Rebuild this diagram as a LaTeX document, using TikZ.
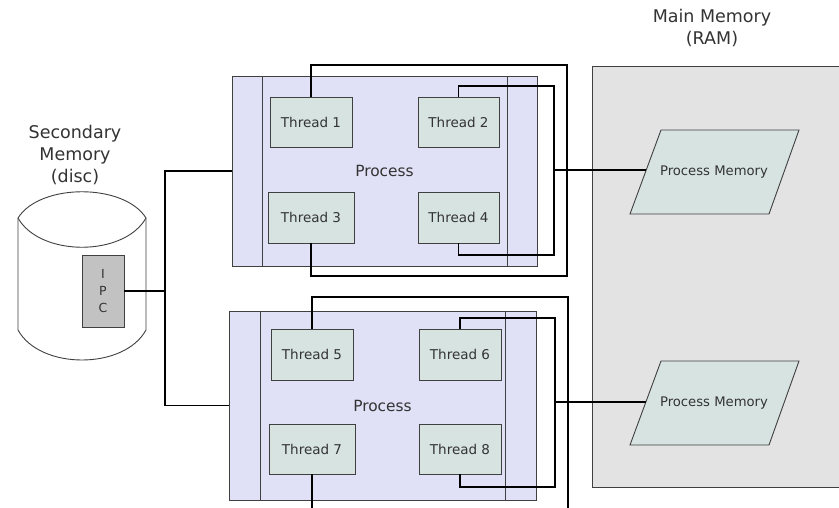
\documentclass[tikz,border=0pt]{standalone}
\usepackage{fontspec}
\setmainfont{DejaVu Sans}
\definecolor{procfill}{HTML}{E0E0F6}
\definecolor{thfill}{HTML}{D6E3E1}
\definecolor{ramfill}{HTML}{E3E3E3}
\definecolor{ipcfill}{HTML}{C2C2C2}
\definecolor{txt}{HTML}{333333}
\definecolor{edge}{HTML}{404040}
\begin{document}
\begin{tikzpicture}[x=1pt,y=-1pt,
  box/.style={draw=edge,line width=0.9pt,inner sep=0pt,text=txt},
  procbox/.style={box,fill=procfill,font=\fontsize{15.4}{17}\selectfont},
  thbox/.style={box,fill=thfill,font=\fontsize{13.5}{15}\selectfont},
  loopline/.style={draw=black,line width=1.6pt},
  conn/.style={draw=black,line width=1.4pt},
  title/.style={align=center,text=txt,font=\fontsize{17.5}{22}\selectfont,inner sep=0pt},
  pmtext/.style={text=txt,font=\fontsize{13.2}{15}\selectfont,inner sep=0pt}]
\useasboundingbox (0,0) rectangle (839,507);
\clip (0,0) rectangle (839,507);
\fill[white] (0,0) rectangle (839,507);

% Main memory
\node[box,fill=ramfill,minimum width=253pt,minimum height=421pt,anchor=north west] (ram) at (592,66) {};
\node[title] (ramtitle) at (712,28) {Main Memory\\(RAM)};
\draw[box,fill=thfill] (661,130) -- (799,130) -- (769,214) -- (630,214) -- cycle;
\node[pmtext] (pm1) at (714,172) {Process Memory};
\coordinate (pm1w) at (646.2,170);
\draw[box,fill=thfill] (661,361) -- (799,361) -- (769,445) -- (630,445) -- cycle;
\node[pmtext] (pm2) at (714,403) {Process Memory};
\coordinate (pm2w) at (645.9,402);

% Secondary memory
\node[title] (sectitle) at (75,155) {Secondary\\Memory\\(disc)};
\draw[draw=edge,line width=0.9pt,fill=white] (18,218) .. controls (40,183) and (124,183) .. (146,218) -- (146,330) .. controls (124,370) and (40,370) .. (18,330) -- cycle;
\draw[draw=edge,line width=0.9pt] (18,218) .. controls (40,257) and (124,257) .. (146,218);
\node[box,fill=ipcfill,minimum width=42pt,minimum height=72pt,align=center,font=\fontsize{12.5}{17}\selectfont] (ipc) at (103,291) {I\\P\\C};

% Processes
\node[procbox,minimum width=305pt,minimum height=190pt] (p1) at (384.5,171) {Process};
\draw[draw=edge,line width=0.9pt] (262,76) -- (262,266) (507,76) -- (507,266);
\node[procbox,minimum width=307pt,minimum height=189pt] (p2) at (382.5,405.5) {Process};
\draw[draw=edge,line width=0.9pt] (260,311) -- (260,500) (505,311) -- (505,500);

% Threads
\node[thbox,minimum width=82pt,minimum height=50pt] (t1) at (311,122) {Thread 1};
\node[thbox,minimum width=81pt,minimum height=50pt] (t2) at (458.5,122) {Thread 2};
\node[thbox,minimum width=86pt,minimum height=51pt] (t3) at (311,217.5) {Thread 3};
\node[thbox,minimum width=81pt,minimum height=51pt] (t4) at (458.5,217.5) {Thread 4};
\node[thbox,minimum width=82pt,minimum height=51pt] (t5) at (312,354.5) {Thread 5};
\node[thbox,minimum width=82pt,minimum height=51pt] (t6) at (460,354.5) {Thread 6};
\node[thbox,minimum width=86pt,minimum height=50pt] (t7) at (312,449) {Thread 7};
\node[thbox,minimum width=82pt,minimum height=50pt] (t8) at (460,449) {Thread 8};

% Loops process 1
\coordinate (a1) at (567,65);
\coordinate (a2) at (567,276);
\draw[loopline] (t1.north) |- (a1) -- (a2) -| (t3.south);
\coordinate (b1) at (554,86);
\coordinate (b2) at (554,255);
\draw[loopline] (t2.north) |- (b1) -- (b2) -| (t4.south);
% Loops process 2
\coordinate (c1) at (568,297);
\coordinate (c2) at (568,515);
\draw[loopline] (t5.north) |- (c1) -- (c2) -| (t7.south);
\coordinate (d1) at (555,318);
\coordinate (d2) at (555,487);
\draw[loopline] (t6.north) |- (d1) -- (d2) -| (t8.south);

% Connectors to process memory
\coordinate (s1) at (554,170);
\coordinate (s2) at (555,402);
\draw[conn] (s1) -- (pm1w);
\draw[conn] (s2) -- (pm2w);

% IPC bus
\coordinate (bus) at (165,291);
\draw[conn] (ipc.east) -- (bus);
\draw[conn] (p1.west) -| (bus) |- (p2.west);
\end{tikzpicture}
\end{document}
